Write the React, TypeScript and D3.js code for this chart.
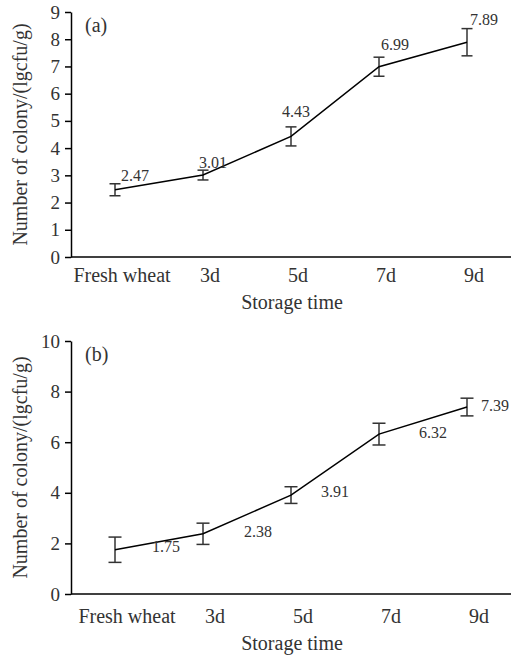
import React, { useEffect, useRef } from 'react';
import * as d3 from 'd3';

const categories = ['Fresh wheat', '3d', '5d', '7d', '9d'];

// panel (a)
const valuesA = [2.47, 3.01, 4.43, 6.99, 7.89];
const errorsA = [0.22, 0.18, 0.35, 0.35, 0.5];
const ticksA = [0, 1, 2, 3, 4, 5, 6, 7, 8, 9];

// panel (b)
const valuesB = [1.75, 2.38, 3.91, 6.32, 7.39];
const errorsB = [0.5, 0.42, 0.33, 0.43, 0.35];
const ticksB = [0, 2, 4, 6, 8, 10];

const FONT = '"Liberation Serif", "Times New Roman", serif';

function App() {
  const ref = useRef<SVGSVGElement>(null);

  useEffect(() => {
    document.body.style.margin = '0';
    const svg = d3.select(ref.current);
    svg.selectAll('*').remove();

    const x = d3.scalePoint<string>().domain(categories).range([71, 511]).padding(0.5);

    const drawPanel = (opts: {
      values: number[];
      errors: number[];
      ticks: number[];
      max: number;
      top: number;
      bottom: number;
      tag: string;
      capHalf: number;
      tickDx: number;
      tickDy: number;
      titleY: number;
      labelPos: 'above' | 'right';
      offsets: [number, number][];
    }) => {
      const y = d3.scaleLinear().domain([0, opts.max]).range([opts.bottom, opts.top]);
      const g = svg.append('g');

      // y axis
      const yAxis = d3.axisLeft(y).tickValues(opts.ticks).tickSize(6).tickPadding(5).tickSizeOuter(0);
      const ya = g.append('g').attr('transform', 'translate(71,0)').call(yAxis);
      ya.select('.domain').attr('stroke', '#000').attr('stroke-width', 1.5);
      ya.selectAll('.tick line').attr('stroke', '#000').attr('stroke-width', 1.5);
      ya.selectAll('.tick text')
        .attr('font-family', FONT)
        .attr('font-size', 19)
        .attr('fill', '#333');
      ya.attr('font-family', null).attr('font-size', null);

      // x axis line
      g.append('line')
        .attr('x1', 71)
        .attr('x2', 511)
        .attr('y1', y(0))
        .attr('y2', y(0))
        .attr('stroke', '#000')
        .attr('stroke-width', 1.5);

      g.selectAll('.xlab')
        .data(categories)
        .join('text')
        .attr('x', (d) => x(d)! + opts.tickDx)
        .attr('y', y(0) + opts.tickDy)
        .attr('text-anchor', 'middle')
        .attr('font-family', FONT)
        .attr('font-size', 20)
        .attr('fill', '#333')
        .text((d) => d);

      g.append('text')
        .attr('x', 292)
        .attr('y', opts.titleY)
        .attr('text-anchor', 'middle')
        .attr('font-family', FONT)
        .attr('font-size', 20)
        .attr('fill', '#333')
        .text('Storage time');

      g.append('text')
        .attr('transform', `translate(27,${(opts.top + opts.bottom) / 2}) rotate(-90)`)
        .attr('text-anchor', 'middle')
        .attr('font-family', FONT)
        .attr('font-size', 20)
        .attr('fill', '#333')
        .text('Number of colony/(lgcfu/g)');

      g.append('text')
        .attr('x', 85)
        .attr('y', opts.top + 20)
        .attr('font-family', FONT)
        .attr('font-size', 20)
        .attr('fill', '#333')
        .text(opts.tag);

      const data = categories.map((c, i) => ({ c, v: opts.values[i], e: opts.errors[i], o: opts.offsets[i] }));

      // error bars
      const eb = g.append('g').attr('stroke', '#333').attr('stroke-width', 1.5).attr('fill', 'none');
      data.forEach((d) => {
        const cx = x(d.c)!;
        eb.append('line').attr('x1', cx).attr('x2', cx).attr('y1', y(d.v - d.e)).attr('y2', y(d.v + d.e));
        eb.append('line').attr('x1', cx - opts.capHalf).attr('x2', cx + opts.capHalf).attr('y1', y(d.v + d.e)).attr('y2', y(d.v + d.e));
        eb.append('line').attr('x1', cx - opts.capHalf).attr('x2', cx + opts.capHalf).attr('y1', y(d.v - d.e)).attr('y2', y(d.v - d.e));
      });

      const line = d3.line<{ c: string; v: number }>().x((d) => x(d.c)!).y((d) => y(d.v));
      g.append('path')
        .datum(data)
        .attr('d', line)
        .attr('fill', 'none')
        .attr('stroke', '#000')
        .attr('stroke-width', 1.5);

      g.selectAll('.vlab')
        .data(data)
        .join('text')
        .attr('x', (d) => x(d.c)! + d.o[0])
        .attr('y', (d) => (opts.labelPos === 'above' ? y(d.v + d.e) : y(d.v)) + d.o[1])
        .attr('font-family', FONT)
        .attr('font-size', 16)
        .attr('fill', '#333')
        .text((d) => d.v.toFixed(2));
    };

    drawPanel({
      values: valuesA,
      errors: errorsA,
      ticks: ticksA,
      max: 9,
      top: 12,
      bottom: 257,
      tag: '(a)',
      capHalf: 5.5,
      tickDx: 7,
      tickDy: 24.5,
      titleY: 309,
      labelPos: 'above',
      offsets: [[6, -3], [-4, -2], [-9, -10], [2, -7], [3, -4]],
    });

    drawPanel({
      values: valuesB,
      errors: errorsB,
      ticks: ticksB,
      max: 10,
      top: 341,
      bottom: 594,
      tag: '(b)',
      capHalf: 6.5,
      tickDx: 12,
      tickDy: 29,
      titleY: 650,
      labelPos: 'right',
      offsets: [[37, 2], [41, 3], [30, 2], [40, 4], [14, 4]],
    });
  }, []);

  return <svg ref={ref} width={511} height={655} style={{ display: 'block', background: '#fff' }} />;
}

export default App;
